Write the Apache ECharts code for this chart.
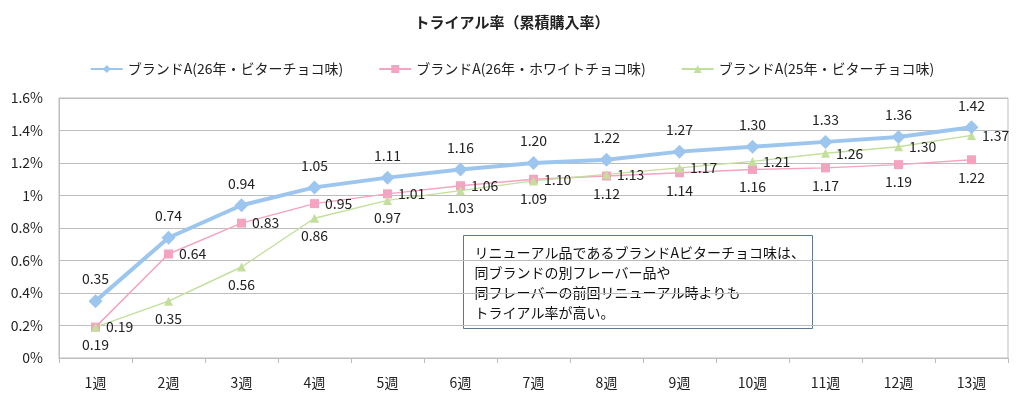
<!DOCTYPE html>
<html>
<head>
    <meta charset="UTF-8" />
    <title>トライアル率（累積購入率）</title>
    <script src="https://cdn.jsdelivr.net/npm/echarts@6/dist/echarts.min.js"></script>
    <style>
        html, body { margin: 0; padding: 0; background: #fff; }
        #chart { width: 1024px; height: 406px; }
    </style>
</head>
<body>
    <div id="chart"></div>
    <script type="text/javascript">
        // データ
        var weeks = ['1週', '2週', '3週', '4週', '5週', '6週', '7週', '8週', '9週', '10週', '11週', '12週', '13週'];
        var seriesNames = ['ブランドA(26年・ビターチョコ味)', 'ブランドA(26年・ホワイトチョコ味)', 'ブランドA(25年・ビターチョコ味)'];
        var bitter26 = [0.35, 0.74, 0.94, 1.05, 1.11, 1.16, 1.20, 1.22, 1.27, 1.30, 1.33, 1.36, 1.42];
        var white26 = [0.19, 0.64, 0.83, 0.95, 1.01, 1.06, 1.10, 1.12, 1.14, 1.16, 1.17, 1.19, 1.22];
        var bitter25 = [0.19, 0.35, 0.56, 0.86, 0.97, 1.03, 1.09, 1.13, 1.17, 1.21, 1.26, 1.30, 1.37];
        var note = 'リニューアル品であるブランドAビターチョコ味は、\n同ブランドの別フレーバー品や\n同フレーバーの前回リニューアル時よりも\nトライアル率が高い。';

        var FONT = '"Noto Sans CJK JP", "Noto Sans", sans-serif';

        // 上にある系列はラベルを右、下の系列はラベルを下に
        var whiteData = white26.map(function (v, i) {
            return { value: v, label: { position: v >= bitter25[i] ? 'right' : 'bottom' } };
        });
        var greenData = bitter25.map(function (v, i) {
            return { value: v, label: { position: v > white26[i] ? 'right' : 'bottom' } };
        });

        var labelStyle = {
            show: true,
            color: '#222',
            fontSize: 14,
            fontFamily: FONT,
            formatter: function (p) { return p.value.toFixed(2); }
        };

        var chart = echarts.init(document.getElementById('chart'));
        var option = {
            animation: false,
            textStyle: { fontFamily: FONT },
            title: {
                text: 'トライアル率（累積購入率）',
                left: 'center',
                top: 10,
                textStyle: { fontSize: 15, fontWeight: 'bold', color: '#222', fontFamily: FONT }
            },
            legend: {
                top: 57,
                left: 'center',
                itemGap: 35,
                itemWidth: 32,
                itemHeight: 10,
                textStyle: { fontSize: 14, color: '#222', fontFamily: FONT },
                data: seriesNames
            },
            grid: {
                left: 59,
                right: 16,
                top: 98,
                bottom: 48,
                show: true,
                borderColor: '#bdbdbd',
                borderWidth: 1
            },
            xAxis: {
                type: 'category',
                data: weeks,
                boundaryGap: true,
                axisLine: { lineStyle: { color: '#bdbdbd' } },
                axisTick: { show: true, length: 5, lineStyle: { color: '#bdbdbd' } },
                axisLabel: { fontSize: 14, color: '#222', margin: 18, fontFamily: FONT }
            },
            yAxis: {
                type: 'value',
                min: 0,
                max: 1.6,
                interval: 0.2,
                axisLine: { show: true, lineStyle: { color: '#bdbdbd' } },
                axisTick: { show: false },
                splitLine: { lineStyle: { color: '#bdbdbd' } },
                axisLabel: {
                    fontSize: 14,
                    color: '#222',
                    margin: 16,
                    fontFamily: FONT,
                    formatter: function (v) { return parseFloat(v.toFixed(1)) + '%'; }
                }
            },
            series: [
                {
                    name: seriesNames[1],
                    type: 'line',
                    data: whiteData,
                    symbol: 'rect',
                    symbolSize: 9,
                    itemStyle: { color: '#f4a3c0' },
                    lineStyle: { color: '#f4a3c0', width: 1.5 },
                    label: Object.assign({ distance: 6 }, labelStyle),
                    z: 3
                },
                {
                    name: seriesNames[2],
                    type: 'line',
                    data: greenData,
                    symbol: 'triangle',
                    symbolSize: 9,
                    itemStyle: { color: '#c3df9c' },
                    lineStyle: { color: '#c3df9c', width: 1.5 },
                    label: Object.assign({ distance: 6 }, labelStyle),
                    z: 3
                },
                {
                    name: seriesNames[0],
                    type: 'line',
                    data: bitter26,
                    symbol: 'diamond',
                    symbolSize: 14,
                    itemStyle: { color: '#9dc6ef' },
                    lineStyle: { color: '#9dc6ef', width: 4 },
                    label: Object.assign({ position: 'top', distance: 8 }, labelStyle),
                    z: 4
                }
            ],
            graphic: [
                {
                    type: 'group',
                    left: 463,
                    top: 235,
                    children: [
                        {
                            type: 'rect',
                            shape: { x: 0, y: 0, width: 349, height: 93 },
                            style: { fill: '#fff', stroke: '#5d7890', lineWidth: 1 }
                        },
                        {
                            type: 'text',
                            x: 11,
                            y: 7,
                            style: {
                                text: note,
                                fill: '#111',
                                fontSize: 14,
                                lineHeight: 20,
                                fontFamily: FONT
                            }
                        }
                    ]
                }
            ]
        };
        chart.setOption(option);
    </script>
</body>
</html>
